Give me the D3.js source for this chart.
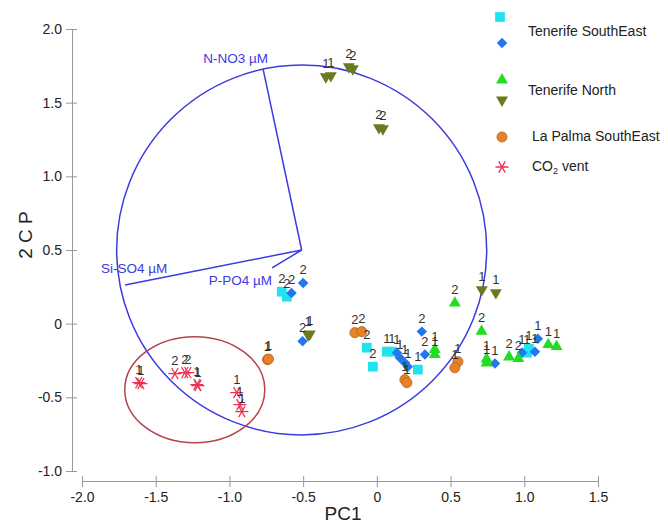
<!DOCTYPE html>
<html>
<head>
<meta charset="utf-8">
<script src="https://cdn.jsdelivr.net/npm/d3@7"></script>
<style>
  body { margin: 0; background: #fff; }
  text { font-family: "Liberation Sans", Arial, sans-serif; }
</style>
</head>
<body>
<div id="chart"></div>
<script>
// [PC1, PC2, sample label]
const teneSE_sq = [
    [-0.645, 0.217, "2"], [-0.611, 0.183, "2"], [-0.068, -0.163, "2"], [-0.027, -0.292, "2"],
    [0.068, -0.190, "1"], [0.102, -0.190, "1"], [0.278, -0.312, "1"], [1.031, -0.170, "1"],
    [1.018, -0.197, "1"]
];
const teneSE_dia = [
    [-0.579, 0.208, "2"], [-0.500, 0.276, "2"], [-0.504, -0.120, "2"], [0.136, -0.197, "1"],
    [0.156, -0.231, "1"], [0.190, -0.265, "1"], [0.210, -0.292, "1"], [0.305, -0.054, "2"],
    [0.326, -0.210, "2"], [1.092, -0.102, "1"], [1.072, -0.190, "1"], [0.984, -0.197, "1"],
    [0.801, -0.271, "1"]
];
const teneN_up = [
    [0.529, 0.140, "2"], [0.710, -0.052, "2"], [0.744, -0.240, "1"], [0.744, -0.267, "1"],
    [0.897, -0.226, "2"], [0.960, -0.237, "2"], [1.163, -0.142, "1"], [1.219, -0.156, "1"],
    [0.393, -0.176, "1"], [0.393, -0.210, "1"]
];
const teneN_down = [
    [-0.346, 1.676, "1"], [-0.312, 1.683, "1"], [-0.190, 1.744, "2"], [-0.163, 1.730, "2"],
    [0.014, 1.330, "2"], [0.041, 1.323, "2"], [-0.466, -0.075, "1"], [-0.455, -0.070, "1"],
    [0.712, 0.231, "1"], [0.807, 0.211, "1"]
];
const laPalma = [
    [-0.742, -0.244, "1"], [-0.735, -0.240, "1"], [-0.149, -0.061, "2"], [-0.102, -0.054, "2"],
    [0.550, -0.258, "1"], [0.529, -0.299, "1"], [0.190, -0.380, "1"], [0.204, -0.400, "1"]
];
const co2vent = [
    [-1.615, -0.400, "1"], [-1.601, -0.407, "1"], [-1.370, -0.339, "2"], [-1.303, -0.332, "2"],
    [-1.282, -0.332, "2"], [-1.221, -0.414, "1"], [-1.214, -0.420, "1"], [-0.950, -0.468, "1"],
    [-0.929, -0.550, "1"], [-0.916, -0.597, "1"]
];

// loadings (vector ends) and the correlation circle
const loadOrigin = [-0.51, 0.50];
const loadNames = ["N-NO3 µM", "Si-SO4 µM", "P-PO4 µM"];
const loadEnds = [[-0.772, 1.729], [-1.708, 0.262], [-0.711, 0.378]];
const circleR = 1.255;
// CO2 vent group ellipse: centre and radii
const ventEllipse = [-1.235, -0.448, 0.475, 0.36];

const xTicks = [-2, -1.5, -1, -0.5, 0, 0.5, 1, 1.5];
const yTicks = [-1, -0.5, 0, 0.5, 1, 1.5, 2];

const width = 668, height = 526;

const svg = d3.select("#chart").append("svg")
    .attr("width", width)
    .attr("height", height);

const x = d3.scaleLinear().domain([-2, 1.5]).range([82, 598]);
const y = d3.scaleLinear().domain([-1, 2]).range([471, 29]);

const fmt = d => d === 0 ? "0" : d.toFixed(1);

// axes
const xAxis = svg.append("g")
    .attr("transform", "translate(0,481)")
    .call(d3.axisBottom(x).tickValues(xTicks).tickFormat(fmt).tickSizeOuter(0).tickSize(6).tickPadding(5));
xAxis.selectAll(".tick line").attr("y1", -5);

const yAxis = svg.append("g")
    .attr("transform", "translate(72,0)")
    .call(d3.axisLeft(y).tickValues(yTicks).tickFormat(fmt).tickSizeOuter(0).tickSize(6).tickPadding(4));
yAxis.selectAll(".tick line").attr("x1", 5);

svg.selectAll(".domain, .tick line").attr("stroke", "#999");
svg.selectAll(".tick text").attr("font-size", 14).attr("fill", "#222")
    .attr("font-family", "Liberation Sans, Arial, sans-serif");

svg.append("text")
    .attr("x", 343).attr("y", 520)
    .attr("text-anchor", "middle")
    .attr("font-size", 19).attr("fill", "#222")
    .text("PC1");

svg.append("text")
    .attr("transform", "translate(32,235) rotate(-90)")
    .attr("text-anchor", "middle")
    .attr("font-size", 19).attr("fill", "#222")
    .text("2 C P");

// correlation circle + loadings
const blue = "#3b3bdf";
svg.append("ellipse")
    .attr("cx", x(loadOrigin[0])).attr("cy", y(loadOrigin[1]))
    .attr("rx", x(loadOrigin[0] + circleR) - x(loadOrigin[0]))
    .attr("ry", y(loadOrigin[1]) - y(loadOrigin[1] + circleR))
    .attr("fill", "none").attr("stroke", blue).attr("stroke-width", 1.5);

svg.selectAll(".load")
    .data(loadEnds)
    .join("line")
    .attr("class", "load")
    .attr("x1", x(loadOrigin[0])).attr("y1", y(loadOrigin[1]))
    .attr("x2", d => x(d[0])).attr("y2", d => y(d[1]))
    .attr("stroke", blue).attr("stroke-width", 1.5);

const loadLabelStyle = [
    {dx: 5, dy: -6, anchor: "end"},
    {dx: -24, dy: -12, anchor: "start"},
    {dx: 0, dy: 17, anchor: "end"}
];
svg.selectAll(".loadlab")
    .data(loadEnds)
    .join("text")
    .attr("class", "loadlab")
    .attr("x", (d, i) => x(d[0]) + loadLabelStyle[i].dx)
    .attr("y", (d, i) => y(d[1]) + loadLabelStyle[i].dy)
    .attr("text-anchor", (d, i) => loadLabelStyle[i].anchor)
    .attr("font-size", 13.5).attr("fill", blue)
    .text((d, i) => loadNames[i]);

// vent group ellipse
svg.append("ellipse")
    .attr("cx", x(ventEllipse[0])).attr("cy", y(ventEllipse[1]))
    .attr("rx", x(ventEllipse[0] + ventEllipse[2]) - x(ventEllipse[0]))
    .attr("ry", y(ventEllipse[1]) - y(ventEllipse[1] + ventEllipse[3]))
    .attr("fill", "none").attr("stroke", "#b5434d").attr("stroke-width", 1.5);

// marker shapes
function asterisk(r) {
    const p = d3.path();
    for (let a of [0, 60, 120]) {
        const t = a * Math.PI / 180;
        p.moveTo(-r * Math.cos(t), -r * Math.sin(t));
        p.lineTo(r * Math.cos(t), r * Math.sin(t));
    }
    return p.toString();
}
const shapes = {
    square: {d: d3.symbol(d3.symbolSquare, 95)(), rot: 0},
    diamond: {d: d3.symbol(d3.symbolSquare, 55)(), rot: 45},
    up: {d: d3.symbol(d3.symbolTriangle, 62)(), rot: 0},
    down: {d: d3.symbol(d3.symbolTriangle, 62)(), rot: 180},
    circle: {d: d3.symbol(d3.symbolCircle, 80)(), rot: 0},
    star: {d: asterisk(6.5), rot: 0}
};

const series = [
    {name: "laPalma", data: laPalma, shape: "circle", fill: "#e8822a", stroke: "#b8601a"},
    {name: "teneN_down", data: teneN_down, shape: "down", fill: "#6b7a1e", stroke: "none"},
    {name: "teneSE_sq", data: teneSE_sq, shape: "square", fill: "#22e2f0", stroke: "none"},
    {name: "teneSE_dia", data: teneSE_dia, shape: "diamond", fill: "#2277ee", stroke: "none"},
    {name: "teneN_up", data: teneN_up, shape: "up", fill: "#22dd22", stroke: "none"},
    {name: "co2vent", data: co2vent, shape: "star", fill: "none", stroke: "#ee3050"}
];

for (let s of series) {
    const g = svg.append("g").attr("class", s.name);
    g.selectAll("path")
        .data(s.data)
        .join("path")
        .attr("d", shapes[s.shape].d)
        .attr("transform", d => `translate(${x(d[0])},${y(d[1])}) rotate(${shapes[s.shape].rot})`)
        .attr("fill", s.fill)
        .attr("stroke", s.stroke)
        .attr("stroke-width", s.shape === "star" ? 1.3 : 0.8);
}

// sample labels
const allPts = series.flatMap(s => s.data);
svg.append("g").selectAll("text")
    .data(allPts)
    .join("text")
    .attr("x", d => x(d[0]))
    .attr("y", d => y(d[1]) - 9)
    .attr("text-anchor", "middle")
    .attr("font-size", 13).attr("fill", "#333")
    .text(d => d[2]);

// legend
const leg = svg.append("g");
const legItems = [
    {shape: "square", fill: "#22e2f0", stroke: "none", lx: 500, ly: 17},
    {shape: "diamond", fill: "#2277ee", stroke: "none", lx: 502, ly: 43},
    {shape: "up", fill: "#22dd22", stroke: "none", lx: 502, ly: 80},
    {shape: "down", fill: "#6b7a1e", stroke: "none", lx: 502, ly: 100},
    {shape: "circle", fill: "#e8822a", stroke: "#b8601a", lx: 502, ly: 137},
    {shape: "star", fill: "none", stroke: "#ee3050", lx: 502, ly: 167}
];
leg.selectAll("path")
    .data(legItems)
    .join("path")
    .attr("d", d => shapes[d.shape].d)
    .attr("transform", d => `translate(${d.lx},${d.ly}) rotate(${shapes[d.shape].rot})`)
    .attr("fill", d => d.fill)
    .attr("stroke", d => d.stroke)
    .attr("stroke-width", d => d.shape === "star" ? 1.3 : 0.8);

const legText = [
    {t: "Tenerife SouthEast", lx: 528, ly: 36},
    {t: "Tenerife North", lx: 528, ly: 95},
    {t: "La Palma SouthEast", lx: 532, ly: 141}
];
leg.selectAll("text.lt")
    .data(legText)
    .join("text")
    .attr("class", "lt")
    .attr("x", d => d.lx).attr("y", d => d.ly)
    .attr("font-size", 14).attr("fill", "#222")
    .text(d => d.t);

const co2 = leg.append("text")
    .attr("x", 532).attr("y", 171)
    .attr("font-size", 14).attr("fill", "#222");
co2.append("tspan").text("CO");
co2.append("tspan").attr("font-size", 9).attr("dy", 3).text("2");
co2.append("tspan").attr("dy", -3).text(" vent");
</script>
</body>
</html>
